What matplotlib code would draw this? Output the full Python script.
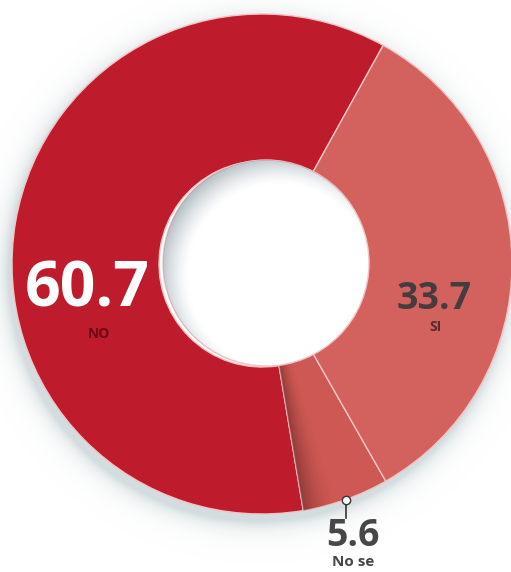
import matplotlib.pyplot as plt
import numpy as np
from matplotlib.patches import Circle

# chart data
labels = ['NO', 'No se', 'SI']
values = [60.7, 5.6, 33.7]
colors = ['#BE1B2C', '#CE5853', '#D3625F']

W, H = 511, 572
cx, cy = 262, H - 264      # donut centre (data coords, y up)
R_OUT = 250
R_IN = 103

fig = plt.figure(figsize=(W / 100, H / 100), dpi=100)
ax = fig.add_axes([0, 0, 1, 1])

# soft drop shadow round the ring
yy, xx = np.mgrid[0:H, 0:W]
yy = H - yy
d_out = np.hypot(xx - (cx - 4), yy - (cy - 7))
a_out = np.clip(np.exp(-(d_out - R_OUT) / 9.0), 0, 1) * 0.45
a_out[d_out < R_OUT - 20] = 0
shadow = np.zeros((H, W, 4))
shadow[..., :3] = np.array([0.62, 0.70, 0.72])
shadow[..., 3] = a_out
ax.imshow(shadow, extent=(0, W, 0, H), origin='upper', zorder=0)

wedges, _ = ax.pie(values, colors=colors, startangle=61, counterclock=True,
                   radius=R_OUT, center=(cx, cy),
                   wedgeprops=dict(width=R_OUT - R_IN, edgecolor='#F3C4C4', linewidth=1.0),
                   frame=True)
for w in wedges:
    w.set_zorder(2)

# darker band on the left side of the small wedge
t1, t2 = wedges[1].theta1, wedges[1].theta2
ang = np.degrees(np.arctan2(yy - cy, xx - cx)) % 360
frac = np.clip((ang - t1 % 360) / (t2 - t1), 0, 1)
band = np.zeros((H, W, 4))
band[..., :3] = np.array([0.35, 0.12, 0.12])
band[..., 3] = np.clip(1 - frac / 0.4, 0, 1) ** 1.8 * 0.5
im = ax.imshow(band, extent=(0, W, 0, H), origin='upper', zorder=3)
im.set_clip_path(wedges[1])

# hole with inner shadow falling from the top left
hx, hy = cx + 4, cy + 1
ax.add_patch(Circle((hx, hy), R_IN, facecolor='white', edgecolor='#F3C4C4',
                    linewidth=1.0, zorder=4))
d_in = np.hypot(xx - (hx + 13), yy - (hy - 12))
a_in = np.clip((d_in - (R_IN - 12)) / 30.0, 0, 1) ** 1.4 * 0.6
inner = np.zeros((H, W, 4))
inner[..., :3] = np.array([0.50, 0.57, 0.61])
inner[..., 3] = a_in
im2 = ax.imshow(inner, extent=(0, W, 0, H), origin='upper', zorder=5)
im2.set_clip_path(Circle((hx, hy), R_IN, transform=ax.transData))

# labels
ax.text(87, H - 290, '60.7', color='white', fontsize=45, fontweight='bold',
        family='Open Sans', ha='center', va='center', zorder=6)
ax.text(99, H - 334, 'NO', color='#6E0A12', fontsize=10, fontweight='bold',
        family='Open Sans', ha='center', va='center', zorder=6)
ax.text(434, H - 299, '33.7', color='#453C3E', fontsize=27, fontweight='bold',
        family='Open Sans', ha='center', va='center', zorder=6)
ax.text(436, H - 327, 'SI', color='#5A2A2C', fontsize=10, fontweight='bold',
        family='Open Sans', ha='center', va='center', zorder=6)
ax.text(353, H - 536, '5.6', color='#474747', fontsize=27, fontweight='bold',
        family='Open Sans', ha='center', va='center', zorder=6)
ax.text(353, H - 562, 'No se', color='#474747', fontsize=11, fontweight='bold',
        family='Open Sans', ha='center', va='center', zorder=6)

# leader marker for the small wedge
mid = np.radians((t1 + t2) / 2)
px, py = cx + R_OUT * np.cos(mid), cy + R_OUT * np.sin(mid)
ax.plot([px, px], [py, py - 18], color='#333333', linewidth=1.2, zorder=6)
ax.plot(px, py, marker='o', markersize=6, markerfacecolor='white',
        markeredgecolor='#333333', markeredgewidth=1.0, zorder=7)

ax.set_xlim(0, W)
ax.set_ylim(0, H)
ax.set_aspect('auto')
ax.axis('off')

plt.savefig('out.png', dpi=100)
